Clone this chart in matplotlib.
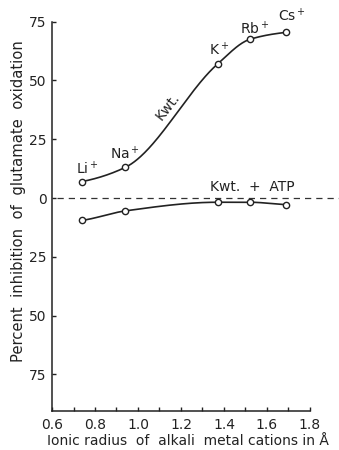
import matplotlib
matplotlib.use("Agg")
import matplotlib.pyplot as plt
import numpy as np
from matplotlib.ticker import FixedLocator, FuncFormatter

# ionic radius (A) of Li+, Na+, K+, Rb+, Cs+
ions = ["Li$^+$", "Na$^+$", "K$^+$", "Rb$^+$", "Cs$^+$"]
radius = [0.74, 0.94, 1.37, 1.52, 1.69]
# percent inhibition of glutamate oxidation
kwt = [7.0, 13.0, 57.0, 67.5, 70.5]
kwt_atp = [-9.5, -5.5, -1.8, -1.8, -2.8]


def pchip(x, y, n=200):
    # monotone cubic through the measured points, only for the drawn curve
    x = np.asarray(x, float)
    y = np.asarray(y, float)
    h = np.diff(x)
    d = np.diff(y) / h
    m = np.zeros_like(y)
    for i in range(1, len(x) - 1):
        if d[i - 1] * d[i] > 0:
            w1 = 2 * h[i] + h[i - 1]
            w2 = h[i] + 2 * h[i - 1]
            m[i] = (w1 + w2) / (w1 / d[i - 1] + w2 / d[i])
    m[0] = d[0] * 0.6
    m[-1] = d[-1] * 0.6
    xs = np.linspace(x[0], x[-1], n)
    k = np.clip(np.searchsorted(x, xs) - 1, 0, len(h) - 1)
    t = (xs - x[k]) / h[k]
    h00 = 2 * t**3 - 3 * t**2 + 1
    h10 = t**3 - 2 * t**2 + t
    h01 = -2 * t**3 + 3 * t**2
    h11 = t**3 - t**2
    ys = h00 * y[k] + h10 * h[k] * m[k] + h01 * y[k + 1] + h11 * h[k] * m[k + 1]
    return xs, ys


plt.rcParams["font.family"] = ["DejaVu Sans"]
fig = plt.figure(figsize=(3.39, 4.5), dpi=100)
ax = fig.add_axes([0.1534, 0.0873, 0.761, 0.8644])

for ys in (kwt, kwt_atp):
    cx, cy = pchip(radius, ys)
    ax.plot(cx, cy, color="#222222", lw=1.2, zorder=2)
    ax.plot(radius, ys, "o", ms=4.5, mfc="white", mec="#222222", mew=1.0, zorder=3)

ax.axhline(0, xmin=0.02, xmax=1.12, color="#333333", lw=0.9, ls=(0, (5, 4)), clip_on=False)

# ion labels above the upper curve
label_pos = [(0.765, 12.5), (0.94, 19.0), (1.375, 63.0), (1.545, 72.0), (1.715, 77.5)]
for name, (lx, ly) in zip(ions, label_pos):
    ax.text(lx, ly, name, ha="center", va="center", fontsize=10, color="#222222")

ax.text(1.14, 39, "Kwt.", rotation=52, ha="center", va="center", fontsize=10, color="#222222")
ax.text(1.53, 4.5, "Kwt.  +  ATP", ha="center", va="center", fontsize=10, color="#222222")

ax.set_xlim(0.6, 1.8)
ax.set_ylim(-90.5, 75)
ax.spines["top"].set_visible(False)
ax.spines["right"].set_visible(False)
for s in ("left", "bottom"):
    ax.spines[s].set_linewidth(1.1)
    ax.spines[s].set_color("#222222")

ax.xaxis.set_major_locator(FixedLocator([0.6, 0.8, 1.0, 1.2, 1.4, 1.6, 1.8]))
ax.xaxis.set_minor_locator(FixedLocator([0.7, 0.9, 1.1, 1.3, 1.5, 1.7]))
ax.yaxis.set_major_locator(FixedLocator([75, 50, 25, 0, -25, -50, -75]))
ax.yaxis.set_major_formatter(FuncFormatter(lambda v, p: f"{abs(v):.0f}"))
ax.tick_params(axis="both", which="both", direction="in", length=3, width=1.0,
               color="#222222", labelsize=10, labelcolor="#222222")
ax.tick_params(axis="x", pad=5)
ax.tick_params(axis="y", pad=4)

fig.text(0.056, 0.553, "Percent  inhibition  of  glutamate  oxidation", rotation=90,
         ha="center", va="center", fontsize=10.6, color="#222222")
fig.text(0.555, 0.02, "Ionic radius  of  alkali  metal cations in Å",
         ha="center", va="center", fontsize=10, color="#222222")

fig.savefig("out.png", dpi=100)
